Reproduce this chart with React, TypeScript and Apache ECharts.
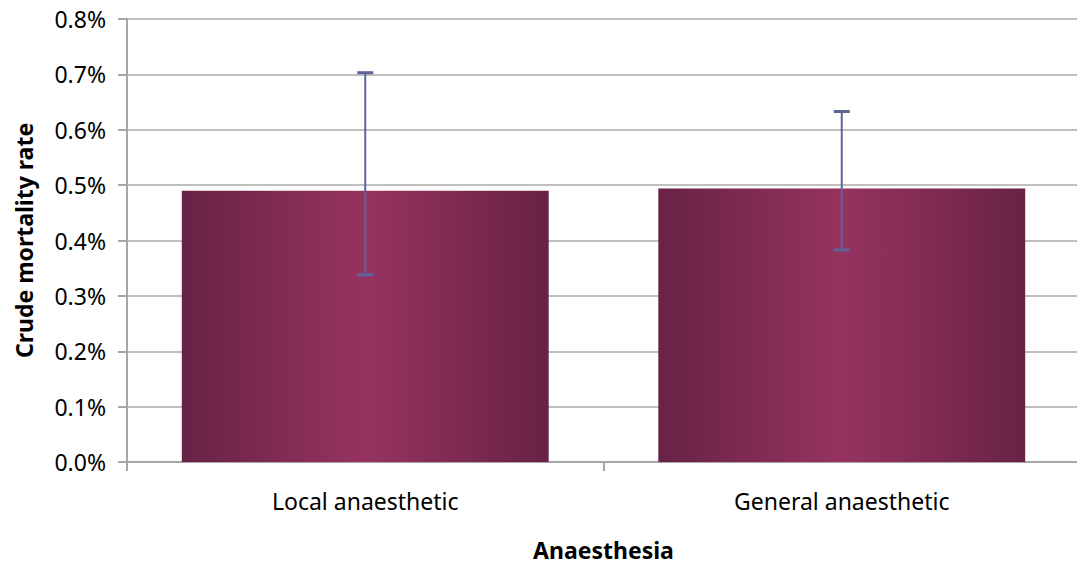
import React, { useEffect, useRef } from "react";
import * as echarts from "echarts";

const categories = ["Local anaesthetic", "General anaesthetic"];
const mortality = [0.49, 0.494];
const lowerCI = [0.338, 0.383];
const upperCI = [0.703, 0.633];
const yTicks = [0, 0.1, 0.2, 0.3, 0.4, 0.5, 0.6, 0.7, 0.8];

const FONT = "'Noto Sans', 'Open Sans', sans-serif";

export default function App() {
  const ref = useRef<HTMLDivElement>(null);
  useEffect(() => {
    if (!ref.current) return;
    const chart = echarts.init(ref.current, undefined, { renderer: "svg" });
    const barColor = new echarts.graphic.LinearGradient(0, 0, 1, 0, [
      { offset: 0, color: "#682246" },
      { offset: 0.5, color: "#963360" },
      { offset: 1, color: "#682246" },
    ]);
    chart.setOption({
      animation: false,
      backgroundColor: "#ffffff",
      textStyle: { fontFamily: FONT },
      grid: { left: 127, right: 0, top: 19, bottom: 103, containLabel: false },
      xAxis: {
        type: "category",
        data: categories,
        name: "Anaesthesia",
        nameLocation: "middle",
        nameGap: 76,
        nameTextStyle: { fontFamily: FONT, fontSize: 23, fontWeight: "bold", color: "#000" },
        axisLine: { lineStyle: { color: "#a6a6a6", width: 2 } },
        axisTick: { show: true, length: 9, lineStyle: { color: "#a6a6a6", width: 2 } },
        axisLabel: { fontFamily: FONT, fontSize: 23, color: "#000", margin: 27 },
      },
      yAxis: {
        type: "value",
        min: 0,
        max: 0.8,
        interval: 0.1,
        name: "Crude mortality rate",
        nameLocation: "middle",
        nameRotate: 90,
        nameGap: 92,
        nameTextStyle: { fontFamily: FONT, fontSize: 23, fontWeight: "bold", color: "#000" },
        axisLine: { show: true, lineStyle: { color: "#a6a6a6", width: 2 } },
        axisTick: { show: true, length: 9, lineStyle: { color: "#a6a6a6", width: 2 } },
        axisLabel: {
          fontFamily: FONT,
          fontSize: 23,
          color: "#000",
          margin: 21,
          formatter: (v: number) => {
            const t = yTicks.find((k) => Math.abs(k - v) < 1e-9);
            return (t !== undefined ? t : v).toFixed(1) + "%";
          },
        },
        splitLine: { show: true, lineStyle: { color: "#bfbfbf", width: 2 } },
      },
      series: [
        {
          type: "bar",
          data: mortality,
          barWidth: "77%",
          itemStyle: { color: barColor },
          z: 2,
        },
        {
          type: "custom",
          z: 5,
          data: categories.map((_, i) => [i, lowerCI[i], upperCI[i]]),
          renderItem: (params: any, api: any) => {
            const i = api.value(0);
            const lo = api.coord([i, api.value(1)]);
            const hi = api.coord([i, api.value(2)]);
            const half = 8;
            const style = { stroke: "#5e6399", lineWidth: 2, fill: "none" };
            return {
              type: "group",
              children: [
                { type: "line", shape: { x1: lo[0], y1: lo[1], x2: hi[0], y2: hi[1] }, style },
                { type: "line", shape: { x1: hi[0] - half, y1: hi[1], x2: hi[0] + half, y2: hi[1] }, style: { ...style, lineWidth: 3 } },
                { type: "line", shape: { x1: lo[0] - half, y1: lo[1], x2: lo[0] + half, y2: lo[1] }, style: { ...style, lineWidth: 3 } },
              ],
            };
          },
        },
      ],
    });
    return () => chart.dispose();
  }, []);
  return (
    <div
      ref={ref}
      style={{ position: "fixed", left: 0, top: 0, width: 1080, height: 566 }}
    />
  );
}
